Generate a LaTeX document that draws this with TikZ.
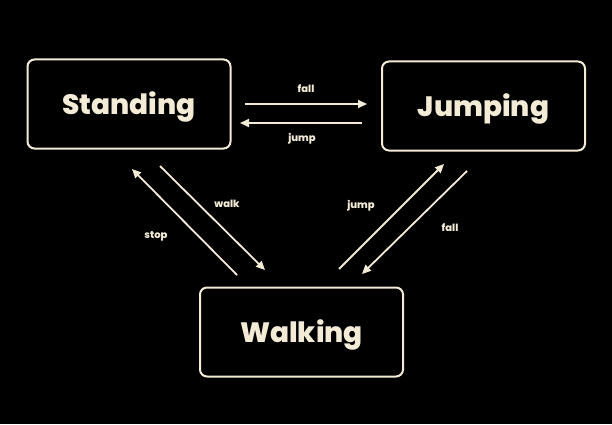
\documentclass[tikz,border=0pt]{standalone}
\usepackage{fontspec}
\setmainfont{Poppins}[BoldFont={* ExtraBold}]
\usetikzlibrary{arrows.meta}
\definecolor{cream}{HTML}{F3EBD6}
\begin{document}
\begin{tikzpicture}[x=1pt,y=1pt,
  state/.style={draw=cream,line width=2pt,rounded corners=7pt,minimum width=203pt,minimum height=89pt,inner sep=0pt,text height=22pt,text depth=2pt,text=cream,font=\fontsize{28}{30}\selectfont\bfseries},
  trans/.style={draw=cream,line width=1.8pt,-{Triangle[length=9pt,width=8pt]}},
  lbl/.style={text=cream,font=\fontsize{10}{12}\selectfont\bfseries}]
\fill[black] (0,0) rectangle (612,424);
\useasboundingbox (0,0) rectangle (612,424);
\node[state] (standing) at (129,320) {Standing};
\node[state] (jumping) at (483.5,318) {Jumping};
\node[state] (walking) at (301.5,92) {Walking};
% horizontal
\coordinate (a1) at (245,320);
\coordinate (a2) at (367,320);
\coordinate (b1) at (362,301);
\coordinate (b2) at (240,301);
\draw[trans] (a1) -- (a2);
\draw[trans] (b1) -- (b2);
\node[lbl] (lfall) at (306,335) {fall};
\node[lbl] (ljump) at (302,285) {jump};
% left diagonal
\coordinate (c1) at (237,149);
\coordinate (c2) at (132,255);
\coordinate (d1) at (160,258);
\coordinate (d2) at (265,154);
\draw[trans] (c1) -- (c2);
\draw[trans] (d1) -- (d2);
\node[lbl] (lwalk) at (227,220) {walk};
\node[lbl] (lstop) at (156,188) {stop};
% right diagonal
\coordinate (e1) at (339,155);
\coordinate (e2) at (444,260);
\coordinate (f1) at (467,253);
\coordinate (f2) at (362,150);
\draw[trans] (e1) -- (e2);
\draw[trans] (f1) -- (f2);
\node[lbl] (ljump2) at (361,218) {jump};
\node[lbl] (lfall2) at (450,196) {fall};
\end{tikzpicture}
\end{document}
